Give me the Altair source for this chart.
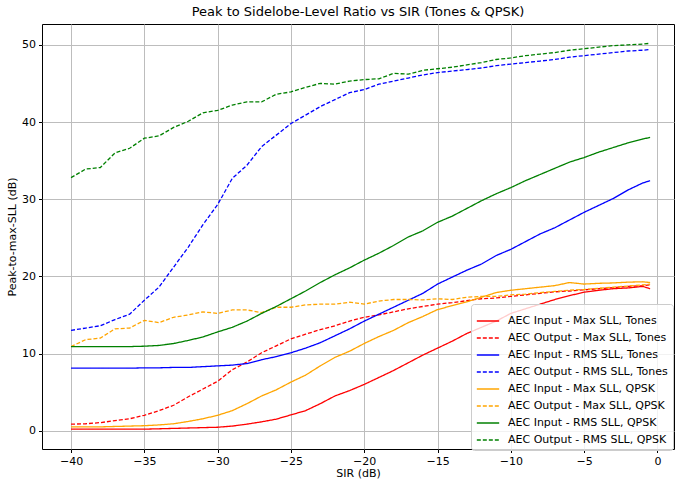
import altair as alt
import pandas as pd

SIR = [-40, -39, -38, -37, -36, -35, -34, -33, -32, -31, -30, -29, -28, -27, -26,
       -25, -24, -23, -22, -21, -20, -19, -18, -17, -16, -15, -14, -13, -12, -11,
       -10, -9, -8, -7, -6, -5, -4, -3, -2, -1, -0.5]

in_max_tones = [0.2, 0.2, 0.2, 0.2, 0.2, 0.2, 0.25, 0.3, 0.35, 0.4, 0.45, 0.6, 0.85, 1.15, 1.5,
                2.05, 2.6, 3.5, 4.5, 5.2, 6.0, 6.9, 7.8, 8.8, 9.8, 10.7, 11.6, 12.6, 13.4, 14.2,
                15.2, 15.8, 16.4, 17.0, 17.5, 17.95, 18.2, 18.4, 18.5, 18.7, 18.4]
out_max_tones = [0.85, 0.9, 1.05, 1.3, 1.55, 2.0, 2.6, 3.3, 4.4, 5.4, 6.4, 7.9, 8.9, 10.1, 11.0,
                 11.9, 12.5, 13.1, 13.6, 14.2, 14.7, 15.0, 15.4, 15.8, 16.1, 16.4, 16.6, 16.85, 17.1, 17.2,
                 17.4, 17.6, 17.8, 18.0, 18.1, 18.25, 18.4, 18.55, 18.7, 18.8, 18.9]
in_rms_tones = [8.1, 8.1, 8.1, 8.1, 8.1, 8.15, 8.15, 8.2, 8.2, 8.3, 8.4, 8.5, 8.7, 9.2, 9.6,
                10.1, 10.7, 11.4, 12.3, 13.2, 14.2, 15.1, 16.0, 16.9, 17.8, 19.0, 19.9, 20.8, 21.6, 22.7,
                23.5, 24.5, 25.5, 26.3, 27.3, 28.3, 29.2, 30.1, 31.2, 32.1, 32.4]
out_rms_tones = [13.0, 13.3, 13.6, 14.4, 15.1, 16.9, 18.6, 21.2, 23.8, 26.7, 29.3, 32.7, 34.4, 36.8, 38.3,
                 39.8, 40.9, 42.0, 42.9, 43.8, 44.2, 44.9, 45.3, 45.7, 46.1, 46.4, 46.6, 46.8, 47.0, 47.3,
                 47.5, 47.7, 47.9, 48.1, 48.4, 48.6, 48.8, 49.0, 49.2, 49.3, 49.4]
in_max_qpsk = [0.5, 0.5, 0.5, 0.55, 0.6, 0.65, 0.75, 0.9, 1.2, 1.55, 2.0, 2.6, 3.5, 4.5, 5.3,
               6.3, 7.2, 8.4, 9.5, 10.3, 11.3, 12.2, 13.0, 14.0, 14.8, 15.7, 16.2, 16.7, 17.3, 17.9,
               18.2, 18.4, 18.6, 18.8, 19.2, 19.0, 19.1, 19.15, 19.25, 19.3, 19.2]
out_max_qpsk = [10.9, 11.8, 12.0, 13.2, 13.3, 14.3, 14.0, 14.7, 15.0, 15.4, 15.2, 15.65, 15.65, 15.3, 16.0,
                16.0, 16.3, 16.4, 16.4, 16.65, 16.4, 16.8, 17.0, 17.0, 16.95, 17.1, 17.0, 17.3, 17.4, 17.4,
                17.6, 17.7, 17.9, 18.05, 18.2, 18.3, 18.45, 18.6, 18.75, 18.9, 19.0]
in_rms_qpsk = [10.9, 10.9, 10.9, 10.9, 10.9, 10.95, 11.05, 11.3, 11.7, 12.15, 12.8, 13.4, 14.2, 15.2, 16.1,
               17.1, 18.1, 19.2, 20.2, 21.1, 22.1, 23.0, 24.0, 25.1, 25.9, 27.0, 27.8, 28.8, 29.8, 30.7,
               31.5, 32.4, 33.2, 34.0, 34.8, 35.4, 36.1, 36.7, 37.3, 37.8, 38.0]
out_rms_qpsk = [32.8, 33.9, 34.1, 36.0, 36.6, 37.9, 38.2, 39.3, 40.1, 41.2, 41.5, 42.2, 42.6, 42.6, 43.6,
                43.9, 44.5, 45.0, 44.9, 45.3, 45.5, 45.6, 46.3, 46.2, 46.7, 46.9, 47.1, 47.4, 47.7, 48.1,
                48.3, 48.6, 48.8, 49.0, 49.3, 49.5, 49.7, 49.9, 50.0, 50.1, 50.2]

labels = [
    "AEC Input - Max SLL, Tones",
    "AEC Output - Max SLL, Tones",
    "AEC Input - RMS SLL, Tones",
    "AEC Output - RMS SLL, Tones",
    "AEC Input - Max SLL, QPSK",
    "AEC Output - Max SLL, QPSK",
    "AEC Input - RMS SLL, QPSK",
    "AEC Output - RMS SLL, QPSK",
]
series = [in_max_tones, out_max_tones, in_rms_tones, out_rms_tones,
          in_max_qpsk, out_max_qpsk, in_rms_qpsk, out_rms_qpsk]
colors = ["#ff0000", "#ff0000", "#0000ff", "#0000ff",
          "#ffa500", "#ffa500", "#008000", "#008000"]
dashes = [[1, 0], [4, 2], [1, 0], [4, 2], [1, 0], [4, 2], [1, 0], [4, 2]]

rows = []
for k, (lab, vals) in enumerate(zip(labels, series)):
    for s, v in zip(SIR, vals):
        rows.append({"SIR": s, "val": v, "series": lab, "order": k})
df = pd.DataFrame(rows)

FONT = "DejaVu Sans"

leg = alt.Legend(
    orient="none", legendX=429, legendY=280, title=None,
    symbolType="stroke", symbolSize=500, symbolStrokeWidth=1.5,
    labelFontSize=11, labelFont=FONT, labelColor="#000000", labelLimit=400,
    fillColor="rgba(255,255,255,0.8)", strokeColor="#cccccc",
    padding=5, cornerRadius=3, rowPadding=0, labelOffset=8,
)

chart = alt.Chart(df).mark_line(strokeWidth=1.3, clip=True).encode(
    x=alt.X("SIR:Q", scale=alt.Scale(domain=[-41.98, 1.13], nice=False, zero=False),
            axis=alt.Axis(values=[-40, -35, -30, -25, -20, -15, -10, -5, 0], title="SIR (dB)")),
    y=alt.Y("val:Q", scale=alt.Scale(domain=[-2.37, 52.7], nice=False, zero=False),
            axis=alt.Axis(values=[0, 10, 20, 30, 40, 50], title="Peak-to-max-SLL (dB)")),
    color=alt.Color("series:N", scale=alt.Scale(domain=labels, range=colors), legend=leg, sort=labels),
    strokeDash=alt.StrokeDash("series:N", scale=alt.Scale(domain=labels, range=dashes), legend=leg, sort=labels),
    order=alt.Order("SIR:Q"),
    detail="series:N",
).properties(
    width=632, height=425,
    title=alt.TitleParams("Peak to Sidelobe-Level Ratio vs SIR (Tones & QPSK)",
                          font=FONT, fontSize=13, fontWeight="normal", color="#000000",
                          anchor="middle", offset=5),
    autosize=alt.AutoSizeParams(type="none"),
    padding={"left": 42, "top": 24, "right": 1, "bottom": 30},
).configure_view(
    stroke="#000000", strokeWidth=1,
).configure_axis(
    labelFont=FONT, labelFontSize=11, labelColor="#000000",
    titleFont=FONT, titleFontSize=11, titleFontWeight="normal", titleColor="#000000",
    tickColor="#000000", tickSize=3.5, tickWidth=1, domain=False,
    gridColor="#bdbdbd", gridWidth=1, labelPadding=3,
).configure_axisX(titlePadding=1).configure_axisY(titlePadding=4)

chart.save("out.html", embed_options={"renderer": "svg", "actions": False})
